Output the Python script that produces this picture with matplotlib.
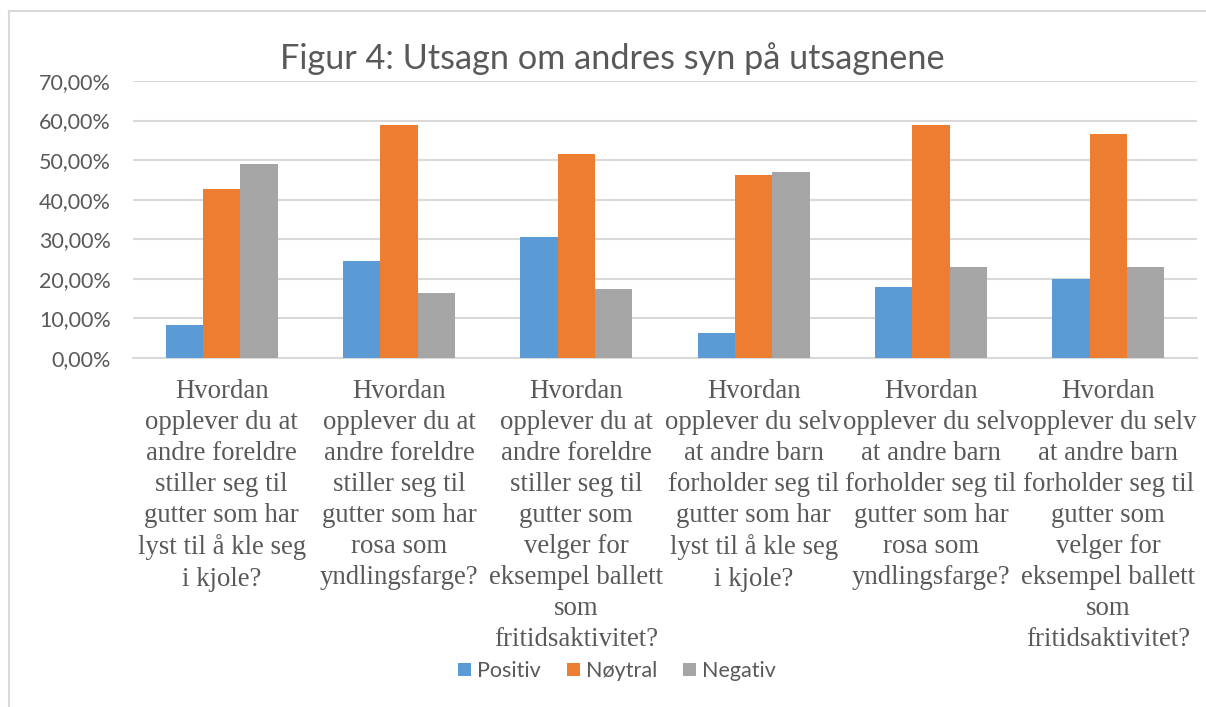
import matplotlib.pyplot as plt
import numpy as np
from matplotlib.patches import Patch
from matplotlib.lines import Line2D
from matplotlib.ticker import FuncFormatter

# data
categories = [
    "Hvordan\nopplever du at\nandre foreldre\nstiller seg til\ngutter som har\nlyst til å kle seg\ni kjole?",
    "Hvordan\nopplever du at\nandre foreldre\nstiller seg til\ngutter som har\nrosa som\nyndlingsfarge?",
    "Hvordan\nopplever du at\nandre foreldre\nstiller seg til\ngutter som\nvelger for\neksempel ballett\nsom\nfritidsaktivitet?",
    "Hvordan\nopplever du selv\nat andre barn\nforholder seg til\ngutter som har\nlyst til å kle seg\ni kjole?",
    "Hvordan\nopplever du selv\nat andre barn\nforholder seg til\ngutter som har\nrosa som\nyndlingsfarge?",
    "Hvordan\nopplever du selv\nat andre barn\nforholder seg til\ngutter som\nvelger for\neksempel ballett\nsom\nfritidsaktivitet?",
]
positiv = [0.083, 0.246, 0.307, 0.064, 0.179, 0.200]
noytral = [0.426, 0.590, 0.515, 0.463, 0.590, 0.567]
negativ = [0.489, 0.163, 0.174, 0.470, 0.229, 0.229]
series_names = ["Positiv", "Nøytral", "Negativ"]
colours = ["#5B9BD5", "#ED7D31", "#A5A5A5"]

text_col = "#595959"
grid_col = "#D9D9D9"

W, H = 1206, 707
fig = plt.figure(figsize=(W / 100, H / 100), dpi=100)
ax = fig.add_axes([133 / W, 1 - 358 / H, (1197 - 133) / W, (358 - 81) / H])

x = np.arange(len(categories))
bw = 0.21
for i, (vals, name) in enumerate(zip([positiv, noytral, negativ], series_names)):
    ax.bar(x + (i - 1) * bw, vals, width=bw, color=colours[i], label=name, zorder=3)

ax.set_xlim(-0.5, len(categories) - 0.5)
ax.set_ylim(0, 0.70)
ax.set_yticks(np.arange(0, 0.701, 0.10))
ax.yaxis.set_major_formatter(FuncFormatter(lambda v, p: f"{v * 100:.2f}%".replace(".", ",")))
ax.grid(axis="y", color=grid_col, linewidth=1.5, zorder=0)
for s in ["top", "right", "left"]:
    ax.spines[s].set_visible(False)
ax.spines["bottom"].set_color(grid_col)
ax.spines["bottom"].set_linewidth(1.5)

ax.tick_params(axis="y", length=0, pad=16, labelsize=15.5, labelcolor=text_col)
for lab in ax.get_yticklabels():
    lab.set_family("Lato")

ax.set_xticks(x)
ax.set_xticklabels(categories, family="Liberation Serif", fontsize=19.3, color=text_col,
                   linespacing=1.32)
ax.tick_params(axis="x", length=0, pad=15)

fig.text(612 / W, 1 - 69 / H, "Figur 4: Utsagn om andres syn på utsagnene",
         ha="center", va="baseline", family="Lato", fontsize=24.7, color=text_col)

handles = [Patch(facecolor=c, label=n) for c, n in zip(colours, series_names)]
leg = fig.legend(handles=handles, loc="center", bbox_to_anchor=(617 / W, 1 - 671 / H),
                 ncol=3, frameon=False, handlelength=0.6, handleheight=0.6,
                 handletextpad=0.3, columnspacing=1.2,
                 prop={"family": "Lato", "size": 15.5})
for t in leg.get_texts():
    t.set_color(text_col)

# chart frame
fig.add_artist(Line2D([8.5 / W, 8.5 / W], [0, 1 - 11 / H], color=grid_col, lw=1.5))
fig.add_artist(Line2D([8.5 / W, 1], [1 - 11 / H, 1 - 11 / H], color=grid_col, lw=1.5))

fig.savefig("out.png", dpi=100)
